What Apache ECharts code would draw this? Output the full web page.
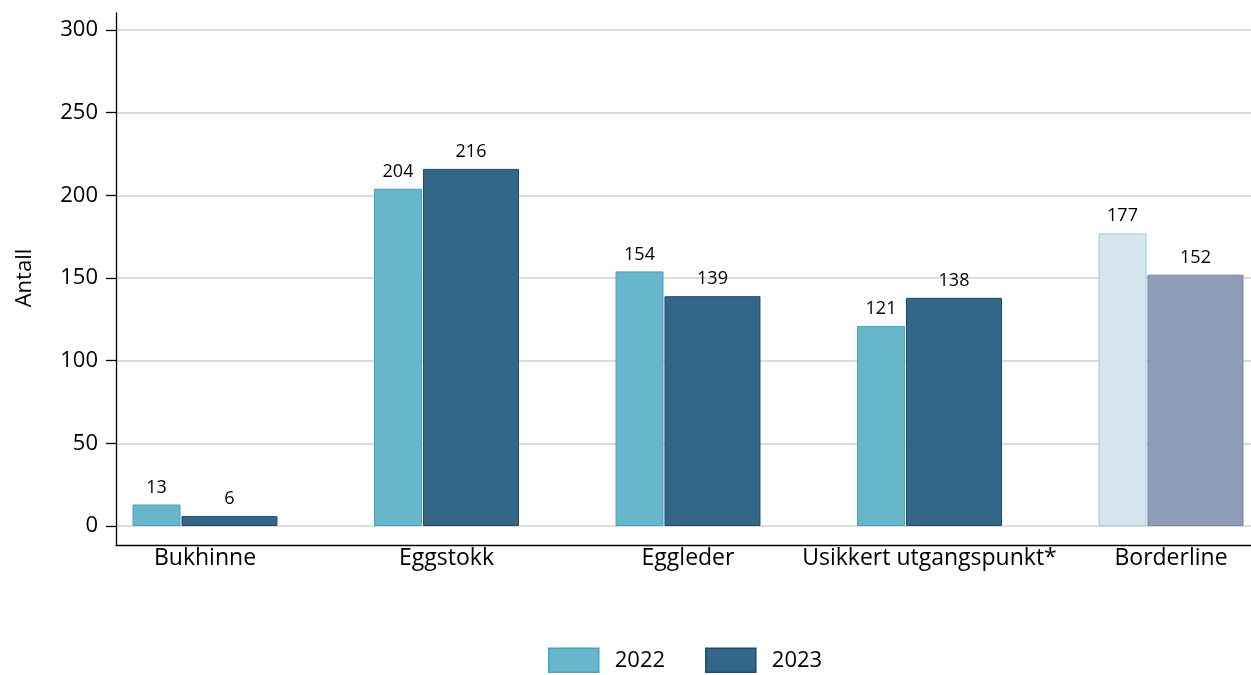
<!DOCTYPE html>
<html>
<head>
<meta charset="utf-8">
<script src="https://cdn.jsdelivr.net/npm/echarts@6/dist/echarts.min.js"></script>
<style>
  html, body { margin: 0; padding: 0; background: #fff; }
  #chart { width: 1251px; height: 675px; }
</style>
</head>
<body>
<div id="chart"></div>
<script>
const categories = ['Bukhinne', 'Eggstokk', 'Eggleder', 'Usikkert utgangspunkt*', 'Borderline'];
const values2022 = [13, 204, 154, 121, 177];
const values2023 = [6, 216, 139, 138, 152];
const yTicks = { min: 0, max: 300, interval: 50 };

const font = 'Open Sans, Noto Sans, sans-serif';
const col22 = { fill: '#68b6ca', border: '#4aa3bd' };
const col23 = { fill: '#336687', border: '#1a4b70' };
// Borderline is drawn in paler colours
const pale22 = { fill: '#d5e6ee', border: '#a8cadb' };
const pale23 = { fill: '#8d9db6', border: '#7387a5' };

function toData(values, normal, pale) {
    return values.map(function (v, i) {
        const c = categories[i] === 'Borderline' ? pale : normal;
        return { value: v, itemStyle: { color: c.fill, borderColor: c.border, borderWidth: 1 } };
    });
}

const chart = echarts.init(document.getElementById('chart'));

chart.setOption({
    animation: false,
    textStyle: { fontFamily: font },
    grid: [
        // bars (runs past the right edge, like the original)
        { left: 84.25, width: 1207.5, top: 30, bottom: 149, outerBoundsMode: 'none' },
        // y labels, ticks, split lines
        { left: 116, right: 0, top: 30, bottom: 149, outerBoundsMode: 'none' },
        // frame lines
        { left: 116, right: 0, top: 13, bottom: 130, outerBoundsMode: 'none' }
    ],
    legend: {
        bottom: -3,
        left: 543,
        icon: 'rect',
        itemWidth: 50,
        itemHeight: 24,
        itemGap: 40,
        textStyle: { fontSize: 22, color: '#000', fontFamily: font, padding: [0, 0, 0, 11] },
        data: [
            { name: '2022', itemStyle: { color: col22.fill, borderColor: col22.border, borderWidth: 1.5 } },
            { name: '2023', itemStyle: { color: col23.fill, borderColor: col23.border, borderWidth: 1.5 } }
        ]
    },
    xAxis: [
        {
            gridIndex: 0, type: 'category', data: categories,
            axisLine: { show: false }, axisTick: { show: false },
            axisLabel: { margin: 21, fontSize: 23, color: '#000', fontFamily: font, interval: 0 }
        },
        { gridIndex: 1, type: 'value', show: false },
        {
            gridIndex: 2, type: 'value', min: 0, max: 1,
            axisLine: { show: true, onZero: false, lineStyle: { color: '#000', width: 1.3 } },
            axisTick: { show: false }, axisLabel: { show: false }, splitLine: { show: false }
        }
    ],
    yAxis: [
        { gridIndex: 0, type: 'value', min: yTicks.min, max: yTicks.max, interval: yTicks.interval, show: false },
        {
            gridIndex: 1, type: 'value', min: yTicks.min, max: yTicks.max, interval: yTicks.interval,
            name: 'Antall', nameLocation: 'middle', nameGap: 80,
            nameTextStyle: { fontSize: 22, color: '#000', fontFamily: font },
            axisLine: { show: false },
            axisTick: { show: true, length: 10, lineStyle: { color: '#000', width: 1.3 } },
            axisLabel: { margin: 18, fontSize: 22, color: '#000', fontFamily: font },
            splitLine: { show: true, lineStyle: { color: '#dcdcdc', width: 2 } }
        },
        {
            gridIndex: 2, type: 'value', min: 0, max: 1,
            axisLine: { show: true, lineStyle: { color: '#000', width: 1.3 } },
            axisTick: { show: false }, axisLabel: { show: false }, splitLine: { show: false }
        }
    ],
    series: [
        {
            name: '2022', type: 'bar', xAxisIndex: 0, yAxisIndex: 0,
            barWidth: 48, barGap: '2%',
            data: toData(values2022, col22, pale22),
            label: { show: true, position: 'top', distance: 8, fontSize: 18, color: '#000', fontFamily: font }
        },
        {
            name: '2023', type: 'bar', xAxisIndex: 0, yAxisIndex: 0,
            barWidth: 96, barGap: '2%',
            data: toData(values2023, col23, pale23),
            label: { show: true, position: 'top', distance: 8, fontSize: 18, color: '#000', fontFamily: font }
        }
    ]
});
</script>
</body>
</html>
